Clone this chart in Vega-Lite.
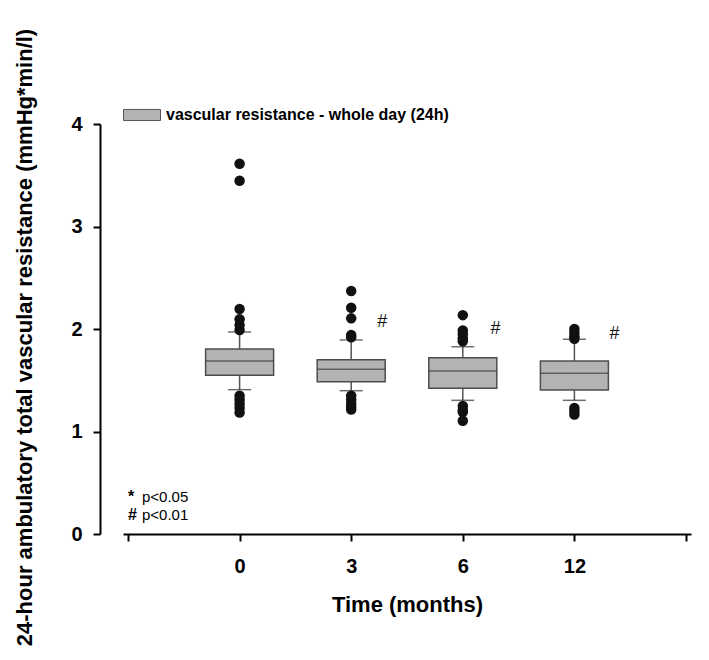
{
  "$schema": "https://vega.github.io/schema/vega-lite/v6.json",
  "width": 568,
  "height": 410,
  "autosize": {"type": "none"},
  "padding": {"left": 123, "top": 124, "right": 18, "bottom": 126},
  "background": "white",
  "config": {
    "view": {"stroke": null},
    "font": "Liberation Sans",
    "axis": {
      "labelFont": "Liberation Sans",
      "titleFont": "Liberation Sans",
      "labelFontWeight": "bold",
      "titleFontWeight": "bold",
      "labelColor": "black",
      "titleColor": "black",
      "domainColor": "black",
      "tickColor": "black",
      "domainWidth": 2,
      "tickWidth": 2,
      "grid": false
    }
  },
  "datasets": {
    "boxes": [
      {"idx": 0, "time": "0", "lower": 1.408, "q1": 1.548, "median": 1.688, "q3": 1.805, "upper": 1.971, "series": "vascular resistance - whole day (24h)"},
      {"idx": 1, "time": "3", "lower": 1.398, "q1": 1.486, "median": 1.607, "q3": 1.700, "upper": 1.893, "series": "vascular resistance - whole day (24h)"},
      {"idx": 2, "time": "6", "lower": 1.304, "q1": 1.421, "median": 1.590, "q3": 1.720, "upper": 1.827, "series": "vascular resistance - whole day (24h)"},
      {"idx": 3, "time": "12", "lower": 1.304, "q1": 1.405, "median": 1.568, "q3": 1.688, "upper": 1.900, "series": "vascular resistance - whole day (24h)"}
    ],
    "outliers": [
      {"idx": 0, "value": 3.613}, {"idx": 0, "value": 3.447}, {"idx": 0, "value": 2.195}, {"idx": 0, "value": 2.095},
      {"idx": 0, "value": 2.04}, {"idx": 0, "value": 1.99}, {"idx": 0, "value": 1.35}, {"idx": 0, "value": 1.31},
      {"idx": 0, "value": 1.27}, {"idx": 0, "value": 1.23}, {"idx": 0, "value": 1.185},
      {"idx": 1, "value": 2.371}, {"idx": 1, "value": 2.208}, {"idx": 1, "value": 2.104}, {"idx": 1, "value": 1.941},
      {"idx": 1, "value": 1.919}, {"idx": 1, "value": 1.35}, {"idx": 1, "value": 1.31}, {"idx": 1, "value": 1.27},
      {"idx": 1, "value": 1.24}, {"idx": 1, "value": 1.215},
      {"idx": 2, "value": 2.135}, {"idx": 2, "value": 1.985}, {"idx": 2, "value": 1.95}, {"idx": 2, "value": 1.91},
      {"idx": 2, "value": 1.88}, {"idx": 2, "value": 1.25}, {"idx": 2, "value": 1.21}, {"idx": 2, "value": 1.19},
      {"idx": 2, "value": 1.105},
      {"idx": 3, "value": 2.0}, {"idx": 3, "value": 1.965}, {"idx": 3, "value": 1.93}, {"idx": 3, "value": 1.905},
      {"idx": 3, "value": 1.23}, {"idx": 3, "value": 1.2}, {"idx": 3, "value": 1.166}
    ],
    "sig": [
      {"xpos": 1.277, "value": 2.07, "mark": "#"},
      {"xpos": 2.29, "value": 2.0, "mark": "#"},
      {"xpos": 3.357, "value": 1.95, "mark": "#"}
    ],
    "notes": [
      {"xpos": -1, "value": 0.312, "sym": "*", "note": "p<0.05"},
      {"xpos": -1, "value": 0.137, "sym": "#", "note": "p<0.01"}
    ]
  },
  "layer": [
    {
      "data": {"name": "boxes"},
      "mark": {"type": "rule", "color": "#555555", "strokeWidth": 1.5},
      "encoding": {
        "x": {
          "field": "idx", "type": "quantitative",
          "scale": {"domain": [-1, 4], "nice": false, "zero": false},
          "axis": {
            "title": "Time (months)",
            "values": [-1, 0, 1, 2, 3, 4],
            "labelExpr": "datum.value == 0 ? '0' : datum.value == 1 ? '3' : datum.value == 2 ? '6' : datum.value == 3 ? '12' : ''",
            "tickSize": 7,
            "labelPadding": 15,
            "labelFontSize": 20,
            "titleFontSize": 22,
            "titlePadding": 18
          }
        },
        "y": {
          "field": "lower", "type": "quantitative",
          "scale": {"domain": [0, 4], "nice": false},
          "axis": {
            "title": "24-hour ambulatory total vascular resistance (mmHg*min/l)",
            "values": [0, 1, 2, 3, 4],
            "format": "d",
            "offset": 23,
            "tickSize": 7,
            "labelPadding": 11,
            "labelFontSize": 20,
            "titleFontSize": 22,
            "titlePadding": 34,
            "titleY": 213
          }
        },
        "y2": {"field": "upper"}
      }
    },
    {
      "data": {"name": "boxes"},
      "mark": {"type": "bar", "size": 68, "stroke": "#4d4d4d", "strokeWidth": 1.5},
      "encoding": {
        "x": {"field": "idx", "type": "quantitative"},
        "y": {"field": "q1", "type": "quantitative"},
        "y2": {"field": "q3"},
        "color": {
          "field": "series", "type": "nominal",
          "scale": {"range": ["#b3b3b3"]},
          "legend": {
            "orient": "none",
            "legendX": 0,
            "legendY": -28,
            "title": null,
            "padding": 0,
            "symbolType": "M-1,-0.3H1V0.3H-1Z",
            "symbolSize": 1369,
            "symbolStrokeColor": "#555555",
            "symbolStrokeWidth": 1,
            "symbolOpacity": 1,
            "labelFont": "Liberation Sans",
            "labelFontSize": 16,
            "labelFontWeight": "bold",
            "labelColor": "black",
            "labelOffset": 5,
            "labelLimit": 0
          }
        }
      }
    },
    {
      "data": {"name": "boxes"},
      "mark": {"type": "tick", "orient": "horizontal", "size": 68, "thickness": 1.5, "color": "#3a3a3a"},
      "encoding": {
        "x": {"field": "idx", "type": "quantitative"},
        "y": {"field": "median", "type": "quantitative"}
      }
    },
    {
      "data": {"name": "boxes"},
      "mark": {"type": "tick", "orient": "horizontal", "size": 23, "thickness": 1.5, "color": "#333333"},
      "encoding": {
        "x": {"field": "idx", "type": "quantitative"},
        "y": {"field": "upper", "type": "quantitative"}
      }
    },
    {
      "data": {"name": "boxes"},
      "mark": {"type": "tick", "orient": "horizontal", "size": 23, "thickness": 1.5, "color": "#333333"},
      "encoding": {
        "x": {"field": "idx", "type": "quantitative"},
        "y": {"field": "lower", "type": "quantitative"}
      }
    },
    {
      "data": {"name": "outliers"},
      "mark": {"type": "point", "filled": true, "size": 110, "color": "#111111", "opacity": 1},
      "encoding": {
        "x": {"field": "idx", "type": "quantitative"},
        "y": {"field": "value", "type": "quantitative"}
      }
    },
    {
      "data": {"name": "sig"},
      "mark": {"type": "text", "font": "Liberation Sans", "fontSize": 18, "fontStyle": "italic", "color": "#111111", "align": "center", "baseline": "middle"},
      "encoding": {
        "x": {"field": "xpos", "type": "quantitative"},
        "y": {"field": "value", "type": "quantitative"},
        "text": {"field": "mark"}
      }
    },
    {
      "data": {"name": "notes"},
      "mark": {"type": "text", "font": "Liberation Sans", "fontSize": 16, "fontWeight": "bold", "color": "black", "align": "left", "baseline": "alphabetic"},
      "encoding": {
        "x": {"field": "xpos", "type": "quantitative"},
        "y": {"field": "value", "type": "quantitative"},
        "text": {"field": "sym"}
      }
    },
    {
      "data": {"name": "notes"},
      "mark": {"type": "text", "font": "Liberation Sans", "fontSize": 15, "color": "black", "align": "left", "baseline": "alphabetic", "dx": 14},
      "encoding": {
        "x": {"field": "xpos", "type": "quantitative"},
        "y": {"field": "value", "type": "quantitative"},
        "text": {"field": "note"}
      }
    }
  ]
}
